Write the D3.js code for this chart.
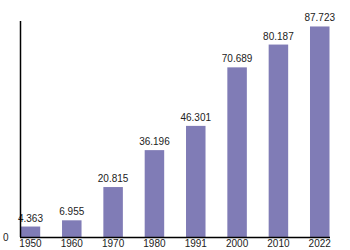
<!DOCTYPE html>
<html><head><meta charset="utf-8">
<script src="https://cdn.jsdelivr.net/npm/d3@7"></script>
<style>body{margin:0;background:#fff}svg{display:block}</style>
</head><body>
<svg id="c" width="350" height="250"></svg>
<script>
const years = ["1950","1960","1970","1980","1991","2000","2010","2022"];
const values = [4.363, 6.955, 20.815, 36.196, 46.301, 70.689, 80.187, 87.723];
const valueLabels = ["4.363","6.955","20.815","36.196","46.301","70.689","80.187","87.723"];
const yTicks = [0];

const svg = d3.select("#c");
const x = d3.scaleBand().domain(years).range([20.7, 329.5]).paddingInner(0.528).paddingOuter(0);
const y = d3.scaleLinear().domain([0, 90]).range([237, 21]);
const font = "Liberation Sans, Arial, Helvetica, sans-serif";

svg.selectAll("rect.bar").data(values).join("rect")
  .attr("class","bar")
  .attr("x",(d,i)=>x(years[i]))
  .attr("y",d=>y(d))
  .attr("width",x.bandwidth())
  .attr("height",d=>y(0)-y(d))
  .attr("fill","#807cb6");

svg.selectAll("text.val").data(values).join("text")
  .attr("class","val")
  .attr("x",(d,i)=>x(years[i])+x.bandwidth()/2)
  .attr("y",d=>y(d)-5)
  .attr("text-anchor","middle")
  .attr("font-family",font).attr("font-size",10).attr("fill","#222")
  .text((d,i)=>valueLabels[i]);

// x axis
const xAxis = d3.axisBottom(x).tickSize(0).tickPadding(3);
const gx = svg.append("g").attr("transform","translate(0,237)").call(xAxis);
gx.select(".domain").attr("d","M20,0.5H330").attr("stroke","#000").attr("stroke-width",1.5);
gx.selectAll("text").attr("font-family",font).attr("font-size",10).attr("fill","#222");

// y axis
const yAxis = d3.axisLeft(y).tickValues(yTicks).tickSize(0).tickPadding(12);
const gy = svg.append("g").attr("transform","translate(20.5,0)").call(yAxis);
gy.select(".domain").attr("d","M0,21V237").attr("stroke","#000").attr("stroke-width",1.5);
gy.selectAll("text").attr("font-family",font).attr("font-size",10).attr("fill","#222").attr("dy","0.32em");
</script>
</body></html>
